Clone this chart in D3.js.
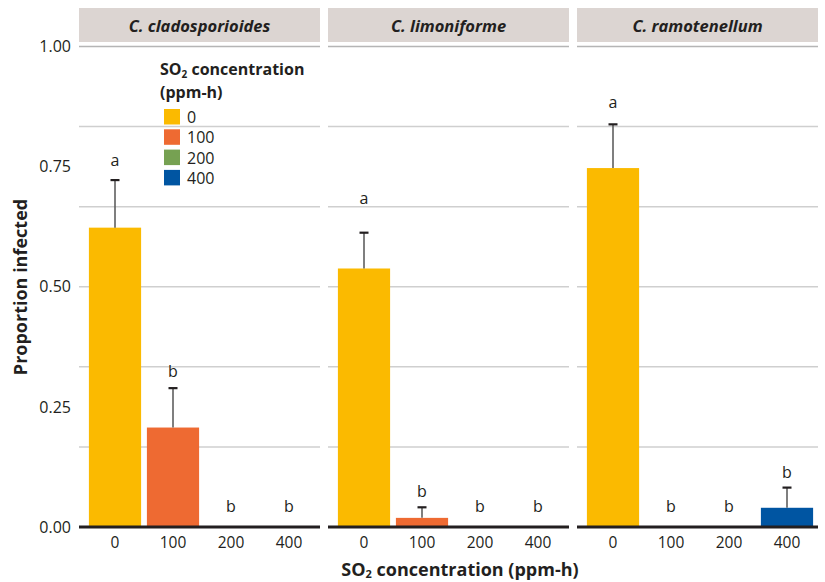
<!DOCTYPE html>
<html><head><meta charset="utf-8">
<script src="https://cdn.jsdelivr.net/npm/d3@7"></script>
<style>
body{margin:0;background:#fff;}
text{font-family:"Open Sans","Noto Sans",sans-serif;}
</style></head>
<body>
<svg id="c" width="825" height="582"></svg>
<script>
const species = ["C. cladosporioides","C. limoniforme","C. ramotenellum"];
const concentrations = ["0","100","200","400"];
const colors = ["#FBBA00","#EE6A32","#76A152","#0055A2"];
const meanClad = [0.623,0.207,0,0];
const meanLimo = [0.538,0.019,0,0];
const meanRamo = [0.747,0,0,0.040];
const errClad = [0.722,0.289,null,null];
const errLimo = [0.6125,0.041,null,null];
const errRamo = [0.838,null,null,0.082];
const lettersClad = ["a","b","b","b"];
const lettersLimo = ["a","b","b","b"];
const lettersRamo = ["a","b","b","b"];
const letterYClad = [0.751,0.313,0.031,0.031];
const letterYLimo = [0.672,0.062,0.031,0.031];
const letterYRamo = [0.871,0.031,0.031,0.102];
const yTicks = [0,0.25,0.5,0.75,1];
const yGrid = [0,1/6,2/6,3/6,4/6,5/6,1];

const means=[meanClad,meanLimo,meanRamo];
const errs=[errClad,errLimo,errRamo];
const letters=[lettersClad,lettersLimo,lettersRamo];
const letterY=[letterYClad,letterYLimo,letterYRamo];

const svg=d3.select("#c");
const plotTop=46.5, plotBottom=527;
const y=d3.scaleLinear().domain([0,1]).range([plotBottom,plotTop]);
const pw=241, gap=8, left0=79;
species.forEach((sp,i)=>{
  const x0=left0+i*(pw+gap), x1=x0+pw;
  const g=svg.append("g");
  g.append("rect").attr("x",x0).attr("y",8).attr("width",pw).attr("height",34).attr("fill","#DCD5D2");
  g.append("text").attr("x",(x0+x1)/2).attr("y",31.5).attr("text-anchor","middle")
    .attr("font-size",16.5).attr("font-weight","bold").attr("font-style","italic").attr("fill","#231f20").text(sp);
  g.selectAll("line.grid").data(yGrid.slice(1)).enter().append("line")
    .attr("x1",x0).attr("x2",x1).attr("y1",d=>y(d)).attr("y2",d=>y(d))
    .attr("stroke",(d,j)=>j===yGrid.length-2?"#b5b5b5":"#cfcfcf").attr("stroke-width",1.5);
  const x=d3.scaleBand().domain(concentrations).range([x0+7,x1-2]).paddingInner(0.1).paddingOuter(0.05);
  const data=concentrations.map((c,k)=>({c,k,v:means[i][k],e:errs[i][k],l:letters[i][k],ly:letterY[i][k]}));
  g.selectAll("rect.bar").data(data.filter(d=>d.v>0)).enter().append("rect")
    .attr("x",d=>x(d.c)).attr("width",x.bandwidth()).attr("y",d=>y(d.v)).attr("height",d=>y(0)-y(d.v))
    .attr("fill",d=>colors[d.k]);
  const eb=data.filter(d=>d.e!=null);
  g.selectAll("line.err").data(eb).enter().append("line")
    .attr("x1",d=>x(d.c)+x.bandwidth()/2).attr("x2",d=>x(d.c)+x.bandwidth()/2)
    .attr("y1",d=>y(d.v)).attr("y2",d=>y(d.e)).attr("stroke","#555").attr("stroke-width",1.5);
  g.selectAll("line.cap").data(eb).enter().append("line")
    .attr("x1",d=>x(d.c)+x.bandwidth()/2-4.5).attr("x2",d=>x(d.c)+x.bandwidth()/2+4.5)
    .attr("y1",d=>y(d.e)).attr("y2",d=>y(d.e)).attr("stroke","#231f20").attr("stroke-width",2.2);
  g.selectAll("text.let").data(data).enter().append("text")
    .attr("x",d=>x(d.c)+x.bandwidth()/2).attr("y",d=>y(d.ly)).attr("text-anchor","middle")
    .attr("font-size",16).attr("fill","#231f20").text(d=>d.l);
  const ax=g.append("g").attr("transform",`translate(0,${plotBottom})`).call(d3.axisBottom(x).tickSize(0).tickPadding(10));
  ax.select(".domain").remove();
  ax.selectAll("text").attr("font-size",15.5).attr("fill","#231f20").style("font-family","'Open Sans','Noto Sans',sans-serif");
  g.append("line").attr("x1",x0).attr("x2",x1).attr("y1",plotBottom).attr("y2",plotBottom).attr("stroke","#231f20").attr("stroke-width",3);
});
const ya=svg.append("g").attr("transform","translate(79,0)").call(d3.axisLeft(y).tickValues(yTicks).tickFormat(d3.format(".2f")).tickSize(0).tickPadding(8));
ya.select(".domain").remove();
ya.selectAll("text").attr("font-size",16).attr("fill","#231f20").style("font-family","'Open Sans','Noto Sans',sans-serif");
svg.append("text").attr("transform","translate(27,287) rotate(-90)").attr("text-anchor","middle")
  .attr("font-size",18).attr("font-weight","bold").attr("fill","#231f20").text("Proportion infected");
const xt=svg.append("text").attr("x",460).attr("y",576).attr("text-anchor","middle")
  .attr("font-size",18).attr("font-weight","bold").attr("fill","#231f20");
xt.append("tspan").text("SO");
xt.append("tspan").attr("font-size",11).attr("dy",2).text("2");
xt.append("tspan").attr("dy",-2).text(" concentration (ppm-h)");
const lg=svg.append("g");
const lt=lg.append("text").attr("x",160).attr("y",75).attr("font-size",16).attr("font-weight","bold").attr("fill","#231f20");
lt.append("tspan").text("SO");
lt.append("tspan").attr("font-size",10).attr("dy",3).text("2");
lt.append("tspan").attr("dy",-3).text(" concentration");
lg.append("text").attr("x",160).attr("y",98).attr("font-size",16).attr("font-weight","bold").attr("fill","#231f20").text("(ppm-h)");
const li=lg.selectAll("g.it").data(concentrations).enter().append("g").attr("transform",(d,i)=>`translate(164,${109+i*20.3})`);
li.append("rect").attr("width",16).attr("height",15.5).attr("fill",(d,i)=>colors[i]);
li.append("text").attr("x",23).attr("y",14).attr("font-size",16).attr("fill","#231f20").text(d=>d);
</script>
</body></html>
